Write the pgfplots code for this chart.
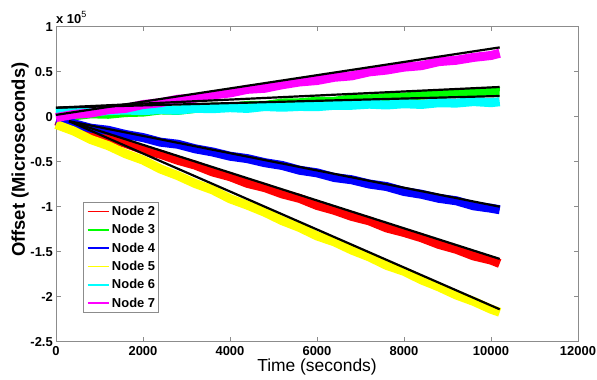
\documentclass[border=0pt]{standalone}
\usepackage{pgfplots}
\pgfplotsset{compat=1.18}
\usepackage{fontspec}
\setmainfont{Liberation Sans}
\definecolor{mred}{RGB}{255,0,0}
\definecolor{mgreen}{RGB}{0,255,0}
\definecolor{mblue}{RGB}{0,0,255}
\definecolor{myellow}{RGB}{255,255,0}
\definecolor{mcyan}{RGB}{0,255,255}
\definecolor{mmagenta}{RGB}{255,0,255}
\pgfplotsset{
  band/.style={line width=9bp, line join=round, line cap=butt},
}
\begin{document}
\begin{tikzpicture}
\useasboundingbox (-56bp,-38.3bp) rectangle (541bp,341.7bp);
\pgfplotstableread{
t n2 n3 n4 n5 n6 n7
0 -4600 550 -4600 -8600 4600 -1000
400 -11900 900 -7700 -15800 6300 2500
800 -16500 3200 -12800 -25400 5100 4000
1200 -23900 2700 -15100 -32200 6700 7750
1600 -29700 4600 -19800 -41200 7400 9240
2000 -36600 5100 -23200 -48200 6700 13500
2400 -41700 7500 -28300 -58100 7900 15500
2800 -48400 7000 -30600 -65500 7200 19400
3200 -53800 9200 -35700 -74300 9300 20600
3600 -61400 10700 -39200 -81300 8900 24200
4000 -66600 10600 -43900 -91200 10000 26400
4400 -74100 12500 -46600 -98300 9200 30400
4800 -78800 12500 -51100 -106200 11300 31600
5200 -85800 15200 -54200 -115600 10500 35500
5600 -90800 15500 -59500 -123100 11400 38600
6000 -98600 17200 -62400 -132500 11100 40200
6400 -104000 17100 -67600 -139100 12700 43800
6800 -110800 19900 -70100 -148200 12700 45400
7200 -115700 19800 -74800 -155800 13900 49800
7600 -123600 21300 -77600 -165200 13000 51800
8000 -128600 21700 -83100 -171800 14400 55100
8400 -134500 24000 -86200 -181300 13600 56700
8800 -141900 24600 -90700 -189100 15500 61200
9200 -147300 26500 -93400 -198100 15100 62700
9600 -154700 26200 -99000 -205200 16800 65900
10000 -159300 28300 -101700 -213900 15600 68000
10200 -163100 27600 -103400 -217300 16600 70500
}\offsets
\begin{axis}[
  scale only axis, width=522bp, height=315bp,
  xmin=0, xmax=12000, ymin=-250000, ymax=100000,
  clip=false,
  xtick={0,2000,4000,6000,8000,10000,12000},
  ytick={-250000,-200000,-150000,-100000,-50000,0,50000,100000},
  yticklabels={-2.5,-2,-1.5,-1,-0.5,0,0.5,1},
  scaled x ticks=false, scaled y ticks=false,
  /pgf/number format/assume math mode=true,
  /pgf/number format/set thousands separator={},
  tick label style={font=\fontsize{13}{13}\selectfont\bfseries},
  xticklabel style={inner ysep=4.5bp},
  yticklabel style={inner xsep=3bp},
  tick align=inside, xtick pos=both, ytick pos=both,
  major tick length=4.5bp,
  axis line style={black!45, line width=0.9bp},
  every tick/.style={black!45, line width=0.9bp},
  xlabel={Time (seconds)}, ylabel={Offset (Microseconds)},
  xlabel style={font=\fontsize{17.5}{17.5}\selectfont, at={(rel axis cs:0.5,-0.0952)}, anchor=base},
  ylabel style={font=\fontsize{18.5}{18.5}\selectfont\bfseries, at={(rel axis cs:-0.0594,0.578)}, anchor=base},
  legend style={at={(rel axis cs:0.0517,0.4435)}, anchor=north west, draw=black!45, line width=0.8bp, fill=white,
    font=\fontsize{13}{13}\selectfont\bfseries, inner xsep=3.5bp, inner ysep=3.5bp, row sep=7.5bp, column sep=2.5bp,
    nodes={inner sep=0pt}},
  legend cell align=left,
  legend image code/.code={\draw[#1, solid, line width=1.6bp, line cap=butt] (0bp,0bp) -- (21bp,0bp);},
]
\addplot[mred, band] table[x=t, y=n2] {\offsets};
\addlegendentry{Node 2}
\addplot[mgreen, band] table[x=t, y=n3] {\offsets};
\addlegendentry{Node 3}
\addplot[mblue, band] table[x=t, y=n4] {\offsets};
\addlegendentry{Node 4}
\addplot[myellow, band] table[x=t, y=n5] {\offsets};
\addlegendentry{Node 5}
\addplot[mcyan, band] table[x=t, y=n6] {\offsets};
\addlegendentry{Node 6}
\addplot[mmagenta, band] table[x=t, y=n7] {\offsets};
\addlegendentry{Node 7}
% fitted lines
\addplot[black, line width=2.2bp, forget plot] coordinates {(300,-5000) (10200,-158000)};
\addplot[black, line width=2.2bp, forget plot] coordinates {(0,10000) (10200,33000)};
\addplot[black, line width=2.2bp, forget plot] coordinates {(300,-5000) (10200,-100000)};
\addplot[black, line width=2.2bp, forget plot] coordinates {(300,-5000) (10200,-214000)};
\addplot[black, line width=2.2bp, forget plot] coordinates {(0,10000) (10200,23000)};
\addplot[black, line width=2.2bp, forget plot] coordinates {(0,2000) (10200,77000)};
\node[anchor=base west, inner sep=0pt, font=\fontsize{13}{13}\selectfont\bfseries] at (rel axis cs:0,1.0117)
  {x 10\raisebox{5.5bp}{\fontsize{9}{9}\selectfont\mdseries 5}};
\end{axis}
\end{tikzpicture}
\end{document}
